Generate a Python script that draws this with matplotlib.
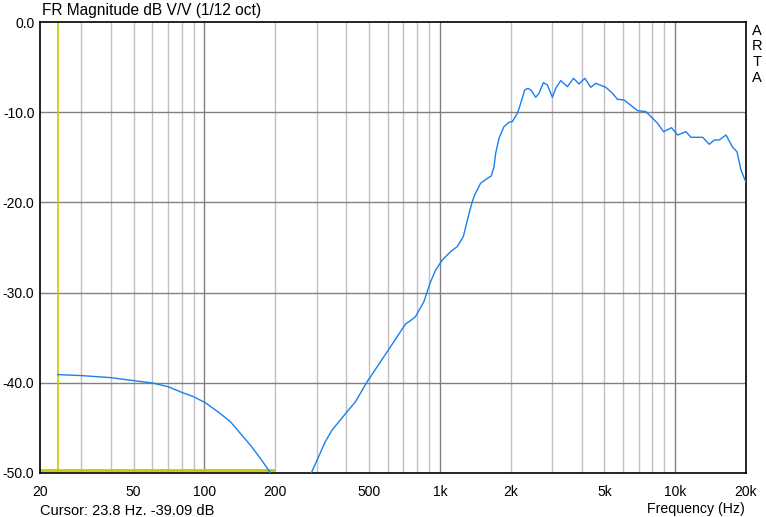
import numpy as np
import matplotlib
matplotlib.use("Agg")
import matplotlib.pyplot as plt
from matplotlib.ticker import FixedLocator, NullFormatter

plt.rcParams['font.family'] = ['Liberation Sans', 'DejaVu Sans']

# Low-frequency branch (Hz, dB)
low_freq = [23.8, 30, 40, 50, 60, 70, 78.8, 89.8, 100.7, 114.8, 128.7, 141.9,
            156.6, 172.7, 189.2, 192]
low_db = [-39.09, -39.2, -39.43, -39.76, -40.02, -40.43, -40.99, -41.54, -42.2,
          -43.27, -44.3, -45.6, -46.9, -48.37, -49.85, -50.2]

# Main response branch (Hz, dB)
main_freq = [282, 301, 326, 348.5, 378, 403.6, 438, 491, 560, 638, 715, 751, 788,
             856, 908, 960, 1024, 1111, 1186, 1258, 1300, 1343, 1374, 1406, 1490,
             1591, 1655, 1699, 1727, 1784, 1873, 1967, 2033, 2136, 2206, 2294,
             2371, 2450, 2555, 2640, 2755, 2865, 3009, 3109, 3265, 3485, 3697,
             3904, 4130, 4378, 4599, 5074, 5415, 5687, 6072, 6921, 7508, 8417,
             8925, 9654, 10238, 11111, 11667, 13082, 13964, 14664, 15400, 16442,
             17556, 18313, 19041, 20000]
main_db = [-50.2, -48.56, -46.53, -45.23, -44.12, -43.2, -42.1, -39.88, -37.66,
           -35.44, -33.48, -33.1, -32.67, -31.0, -28.97, -27.5, -26.39, -25.46,
           -24.9, -23.8, -22.3, -20.84, -19.92, -19.18, -17.88, -17.33, -17.07,
           -16.04, -14.56, -12.9, -11.6, -11.12, -11.05, -10.12, -9.02, -7.54,
           -7.35, -7.6, -8.35, -7.9, -6.73, -6.98, -8.35, -7.35, -6.5, -7.17,
           -6.24, -6.87, -6.24, -7.24, -6.8, -7.24, -7.9, -8.57, -8.65, -9.83,
           -9.94, -11.23, -12.16, -11.72, -12.53, -12.16, -12.78, -12.78, -13.56,
           -13.08, -13.08, -12.53, -13.9, -14.38, -16.41, -17.8]

cursor_freq = 23.8
cursor_db = -49.7
cursor_end = 200

x_ticks = [20, 50, 100, 200, 500, 1000, 2000, 5000, 10000, 20000]
x_labels = ['20', '50', '100', '200', '500', '1k', '2k', '5k', '10k', '20k']
y_ticks = [0, -10, -20, -30, -40, -50]
y_labels = ['0.0', '-10.0', '-20.0', '-30.0', '-40.0', '-50.0']

W, H = 766, 517
fig = plt.figure(figsize=(W / 100, H / 100), dpi=100)
L, R, T, B = 40, 746, 22, 473
ax = fig.add_axes([L / W, 1 - B / H, (R - L) / W, (B - T) / H])
ax.set_xscale('log')
ax.set_xlim(20, 20000)
ax.set_ylim(-50, 0)

# grid
minor = []
for dec in [10, 100, 1000, 10000]:
    for m in range(2, 10):
        f = dec * m
        if 20 < f < 20000:
            minor.append(f)
for f in minor:
    ax.axvline(f, color='#c0c0c0', lw=1, zorder=1)
for f in [100, 1000, 10000]:
    ax.axvline(f, color='#808080', lw=1, zorder=1.5)
for y in [-10, -20, -30, -40]:
    ax.axhline(y, color='#808080', lw=1, zorder=1.5)

# cursor
ax.plot([cursor_freq, cursor_freq], [-50, 0], color='#c8c800', lw=1.2, zorder=2)
ax.plot([20, cursor_end], [cursor_db, cursor_db], color='#c8c800', lw=2, zorder=2,
        solid_capstyle='butt')

ax.plot(low_freq, low_db, color='#1a7ff0', lw=1, zorder=3, clip_on=True)
ax.plot(main_freq, main_db, color='#1a7ff0', lw=1, zorder=3, clip_on=True)

ax.xaxis.set_major_locator(FixedLocator(x_ticks))
ax.set_xticklabels(x_labels)
ax.xaxis.set_minor_locator(FixedLocator([]))
ax.xaxis.set_minor_formatter(NullFormatter())
ax.set_yticks(y_ticks)
ax.set_yticklabels(y_labels)
ax.tick_params(axis='both', length=0, labelsize=10, colors='black')
ax.tick_params(axis='x', pad=9)
ax.tick_params(axis='y', pad=4)
for s in ax.spines.values():
    s.set_color('black')
    s.set_linewidth(1.2)

fig.text(42 / W, 1 - 10 / H, 'FR Magnitude dB V/V (1/12 oct)', fontsize=11.2,
         ha='left', va='center')
fig.text(40 / W, 1 - 511 / H, 'Cursor: 23.8 Hz. -39.09 dB', fontsize=10.5,
         ha='left', va='center')
fig.text(745 / W, 1 - 509 / H, 'Frequency (Hz)', fontsize=10.2,
         ha='right', va='center')
for i, ch in enumerate('ARTA'):
    fig.text(757 / W, 1 - (31 + 15.5 * i) / H, ch, fontsize=10.5,
             ha='center', va='center')

fig.savefig('out.png', dpi=100)
